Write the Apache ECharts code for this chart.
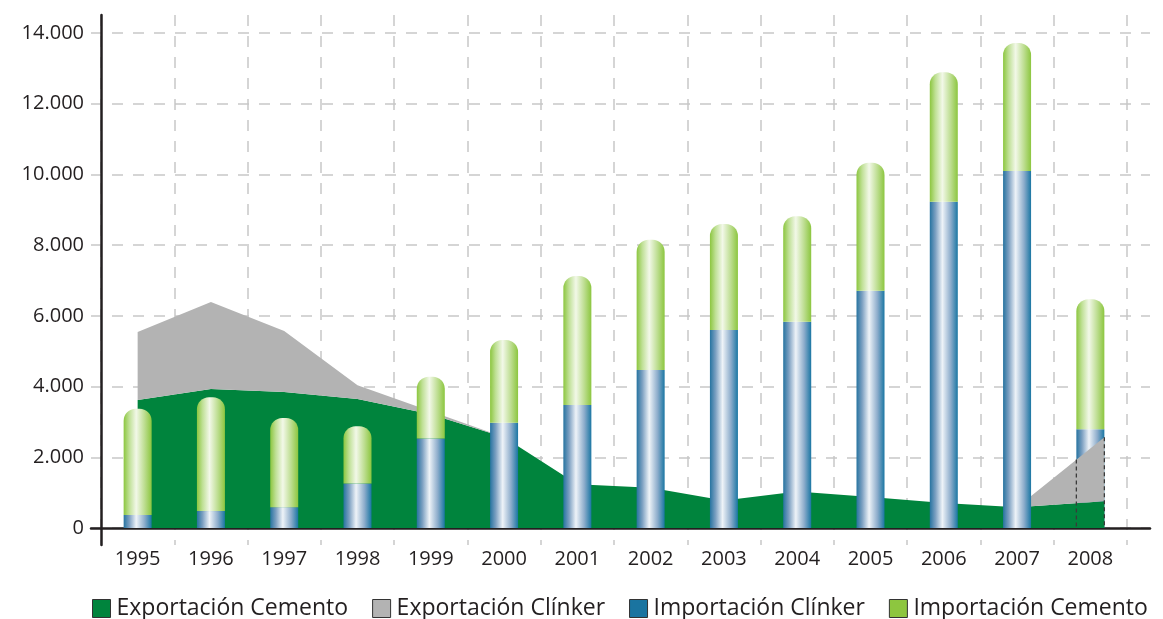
<!DOCTYPE html>
<html>
<head>
<meta charset="utf-8">
<script src="https://cdn.jsdelivr.net/npm/echarts@6/dist/echarts.min.js"></script>
<style>
  html, body { margin: 0; padding: 0; background: #fff; }
  #chart { width: 1163px; height: 619px; }
</style>
</head>
<body>
<div id="chart"></div>
<script>
// Years on the horizontal axis
const years = ['1995', '1996', '1997', '1998', '1999', '2000', '2001',
               '2002', '2003', '2004', '2005', '2006', '2007', '2008'];

// Exports (stacked areas), thousand tonnes
const expCemento = [3620, 3930, 3850, 3650, 3220, 2570, 1240, 1140, 780, 1030, 880, 710, 590, 760];
const expClinker = [1920, 2460, 1720, 390, 80, 0, 0, 0, 0, 0, 0, 0, 0, 1810];

// Imports (stacked cylinders), thousand tonnes
const impClinker = [370, 480, 590, 1260, 2530, 2980, 3480, 4470, 5600, 5830, 6710, 9230, 10100, 2790];
const impCemento = [3000, 3220, 2520, 1620, 1750, 2340, 3650, 3680, 3000, 2990, 3620, 3660, 3620, 3680];

// Value axis ticks
const yMin = 0, yMax = 14000, yStep = 2000;

const seriesNames = ['Exportación Cemento', 'Exportación Clínker', 'Importación Clínker', 'Importación Cemento'];
const legendColors = ['#00843d', '#b3b3b3', '#1a74a0', '#8dc63f'];

const BAR_W = 28;
const FONT = 'Open Sans';
const TEXT = '#231f20';
const GRID_LINE = { color: '#c8c8c8', width: 1.5, type: [11, 10] };

const last = years.length - 1;
const cementoTop = expCemento.slice();
const clinkerTop = expCemento.map((v, i) => v + expClinker[i]);
const zeros = years.map(() => 0);

function thousands(v) {
  return String(v).replace(/\B(?=(\d{3})+(?!\d))/g, '.');
}

// Builds the outline of a stacked band; the final year reaches the
// outer edge of its cylinder.
function bandPoints(api, tops, bases) {
  const upper = [], lower = [];
  for (let i = 0; i < tops.length; i++) {
    const p = api.coord([i, tops[i]]);
    const b = api.coord([i, bases[i]]);
    if (i === last) { p[0] += BAR_W / 2; b[0] += BAR_W / 2; }
    upper.push(p);
    lower.push(b);
  }
  return { upper, lower };
}

function bandRenderer(tops, bases, color, withOutline) {
  return function (params, api) {
    if (params.dataIndex !== 0) return null;
    const { upper, lower } = bandPoints(api, tops, bases);
    const children = [{
      type: 'polygon',
      shape: { points: upper.concat(lower.slice().reverse()) },
      style: { fill: color }
    }];
    if (withOutline) {
      // dashed edges of the last cylinder where the band covers it
      const a = upper[last - 1], b = upper[last];
      const base = api.coord([last, 0]);
      const center = base[0];
      const xs = [center - BAR_W / 2, center + BAR_W / 2];
      xs.forEach(x => {
        const t = (x - a[0]) / (b[0] - a[0]);
        const yTop = a[1] + (b[1] - a[1]) * Math.min(1, Math.max(0, t));
        children.push({
          type: 'line',
          shape: { x1: x, y1: yTop, x2: x, y2: base[1] },
          style: { stroke: '#3a3a3a', lineWidth: 1.3, lineDash: [4, 3] },
          z2: 10
        });
      });
    }
    return { type: 'group', children };
  };
}

const blueFill = {
  type: 'linear', x: 0, y: 0, x2: 1, y2: 0,
  colorStops: [
    { offset: 0, color: '#2673a0' },
    { offset: 0.2, color: '#7b9fc1' },
    { offset: 0.45, color: '#eef3f8' },
    { offset: 0.75, color: '#8caccb' },
    { offset: 1, color: '#1a76a3' }
  ]
};
const greenFill = {
  type: 'linear', x: 0, y: 0, x2: 1, y2: 0,
  colorStops: [
    { offset: 0, color: '#8cc63f' },
    { offset: 0.2, color: '#bfe095' },
    { offset: 0.45, color: '#f2f8e8' },
    { offset: 0.75, color: '#bcdd8f' },
    { offset: 1, color: '#8cc63f' }
  ]
};

const mainClinker = impClinker.map((v, i) => (i === last ? '-' : v));
const mainCemento = impCemento.map((v, i) => (i === last ? '-' : v));
const lastClinker = impClinker.map((v, i) => (i === last ? v : '-'));
const lastCemento = impCemento.map((v, i) => (i === last ? v : '-'));

const chart = echarts.init(document.getElementById('chart'), null, { renderer: 'canvas' });

chart.setOption({
  animation: false,
  textStyle: { fontFamily: FONT },
  grid: [
    { left: 101, right: 36, top: 33, bottom: 91 },   // plot
    { left: 91, right: 13, top: 33, bottom: 91 },    // horizontal guides + base line
    { left: 101, right: 36, top: 15, bottom: 74 }    // vertical guides + value axis line
  ],
  xAxis: [
    {
      type: 'category', gridIndex: 0, data: years, boundaryGap: true,
      axisLine: { show: false }, axisTick: { show: false }, splitLine: { show: false },
      axisLabel: { interval: 0, margin: 21, fontSize: 20, color: TEXT, fontFamily: FONT }
    },
    {
      type: 'value', gridIndex: 1, min: 0, max: 1,
      axisLine: { show: true, lineStyle: { color: TEXT, width: 2.5 } },
      axisTick: { show: false }, axisLabel: { show: false }, splitLine: { show: false }
    },
    {
      type: 'category', gridIndex: 2, data: years, boundaryGap: true,
      axisLine: { show: false }, axisTick: { show: false }, axisLabel: { show: false },
      splitLine: { show: true, interval: 0, lineStyle: GRID_LINE }
    }
  ],
  yAxis: [
    {
      type: 'value', gridIndex: 0, min: yMin, max: yMax, interval: yStep,
      axisLine: { show: false }, axisTick: { show: false }, splitLine: { show: false },
      axisLabel: { margin: 17, fontSize: 20, color: TEXT, fontFamily: FONT, formatter: thousands }
    },
    {
      type: 'value', gridIndex: 1, min: yMin, max: yMax, interval: yStep,
      axisLine: { show: false }, axisTick: { show: false }, axisLabel: { show: false },
      splitLine: { show: true, lineStyle: GRID_LINE }
    },
    {
      type: 'value', gridIndex: 2, min: 0, max: 1,
      axisLine: { show: true, lineStyle: { color: TEXT, width: 2.5 } },
      axisTick: { show: false }, axisLabel: { show: false }, splitLine: { show: false }
    }
  ],
  legend: {
    left: 87, top: 592,
    itemWidth: 18, itemHeight: 18, itemGap: 24,
    icon: 'rect',
    textStyle: { fontSize: 23, color: TEXT, fontFamily: FONT, padding: [0, 0, 0, 1] },
    data: seriesNames.map((name, i) => ({
      name,
      itemStyle: { color: legendColors[i], borderColor: '#333', borderWidth: 1 }
    }))
  },
  series: [
    {
      name: seriesNames[0], type: 'custom', xAxisIndex: 0, yAxisIndex: 0, z: 2,
      itemStyle: { color: legendColors[0] },
      data: expCemento.map((v, i) => [i, v]),
      renderItem: bandRenderer(cementoTop, zeros, '#00843d', false)
    },
    {
      name: seriesNames[1], type: 'custom', xAxisIndex: 0, yAxisIndex: 0, z: 2,
      itemStyle: { color: legendColors[1] },
      data: expClinker.map((v, i) => [i, v]),
      renderItem: bandRenderer(clinkerTop, cementoTop, '#b3b3b3', false)
    },
    {
      name: seriesNames[2], type: 'bar', stack: 'imp', xAxisIndex: 0, yAxisIndex: 0, z: 3,
      barWidth: BAR_W, barGap: '-100%',
      itemStyle: { color: blueFill },
      data: mainClinker
    },
    {
      name: seriesNames[3], type: 'bar', stack: 'imp', xAxisIndex: 0, yAxisIndex: 0, z: 3,
      barWidth: BAR_W, barGap: '-100%',
      itemStyle: { color: greenFill, borderRadius: [12, 12, 0, 0] },
      data: mainCemento
    },
    {
      name: seriesNames[2], type: 'bar', stack: 'imp08', xAxisIndex: 0, yAxisIndex: 0, z: 1,
      barWidth: BAR_W, barGap: '-100%',
      itemStyle: { color: blueFill },
      data: lastClinker
    },
    {
      name: seriesNames[3], type: 'bar', stack: 'imp08', xAxisIndex: 0, yAxisIndex: 0, z: 1,
      barWidth: BAR_W, barGap: '-100%',
      itemStyle: { color: greenFill, borderRadius: [12, 12, 0, 0] },
      data: lastCemento
    },
    {
      // dashed edges over the exports bands for the last year
      name: 'outline', type: 'custom', xAxisIndex: 0, yAxisIndex: 0, z: 4,
      silent: true,
      data: [[0, 0]],
      renderItem: function (params, api) {
        const r = bandRenderer(clinkerTop, cementoTop, 'none', true)(params, api);
        r.children = r.children.slice(1);
        return r;
      }
    }
  ]
});
</script>
</body>
</html>
